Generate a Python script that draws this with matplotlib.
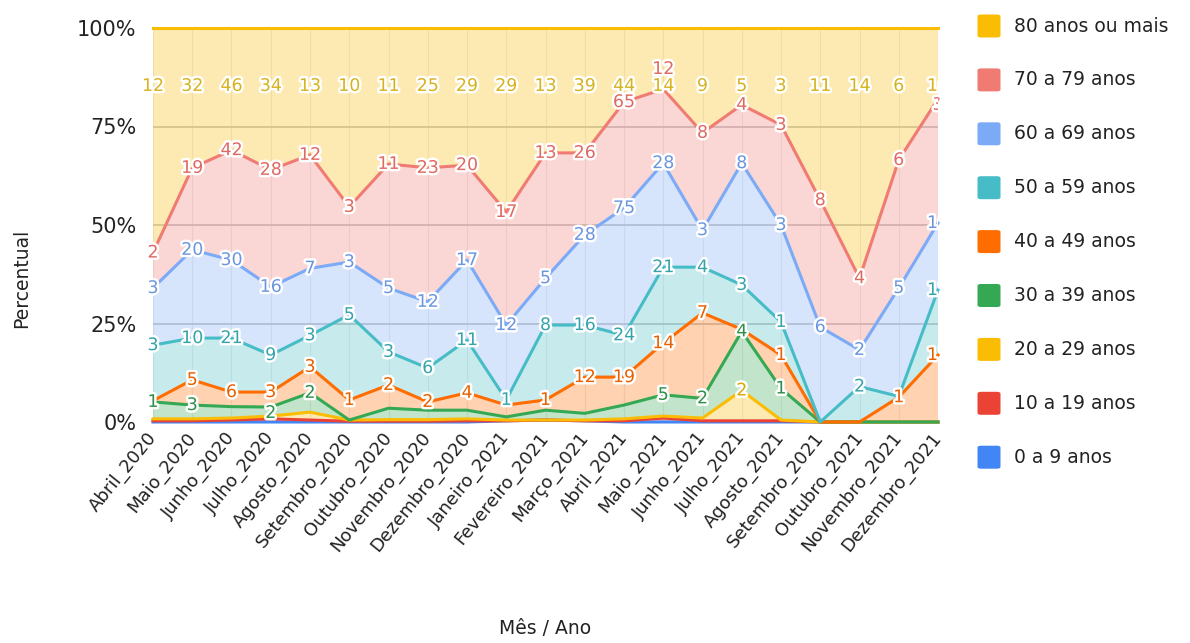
import numpy as np
import matplotlib
matplotlib.use("Agg")
import matplotlib.pyplot as plt
import matplotlib.patheffects as pe
from matplotlib.patches import FancyBboxPatch

months = ['Abril_2020', 'Maio_2020', 'Junho_2020', 'Julho_2020', 'Agosto_2020',
          'Setembro_2020', 'Outubro_2020', 'Novembro_2020', 'Dezembro_2020',
          'Janeiro_2021', 'Fevereiro_2021', 'Março_2021', 'Abril_2021', 'Maio_2021',
          'Junho_2021', 'Julho_2021', 'Agosto_2021', 'Setembro_2021', 'Outubro_2021',
          'Novembro_2021', 'Dezembro_2021']

series_names = ['0 a 9 anos', '10 a 19 anos', '20 a 29 anos', '30 a 39 anos', '40 a 49 anos',
                '50 a 59 anos', '60 a 69 anos', '70 a 79 anos', '80 anos ou mais']

# percentage share of each age group per month
s0_9 = [0, 0, 0, 0, 0, 0, 0, 0, 0, 0.3, 0.5, 0.3, 0, 0, 0, 0, 0, 0, 0, 0, 0]
s10_19 = [0.3, 0.3, 0.5, 0.8, 0.5, 0.2, 0.2, 0.2, 0.3, 0.0, 0.0, 0.0, 0.3, 1.0, 0.3, 0.3, 0.3, 0, 0, 0, 0]
s20_29 = [0.5, 0.5, 0.5, 0.7, 2.0, 0.3, 0.4, 0.4, 0.5, 0.2, 0.0, 0.2, 0.5, 0.5, 0.7, 7.7, 0.2, 0, 0, 0, 0]
s30_39 = [4.3, 3.5, 2.9, 2.3, 4.9, 0.0, 2.9, 2.4, 2.2, 0.8, 2.5, 1.7, 3.5, 5.4, 5.0, 15.0, 8.0, 0, 0, 0, 0]
s40_49 = [0.3, 6.4, 3.7, 3.8, 6.6, 5.1, 5.9, 2.1, 4.4, 3.0, 2.6, 9.2, 7.1, 13.1, 21.7, 0.5, 8.5, 0, 0, 6.3, 17.0]
s50_59 = [14.1, 10.6, 13.7, 9.4, 8.0, 21.6, 8.4, 8.6, 13.4, 1.3, 19.0, 13.2, 10.6, 19.3, 11.6, 11.3, 8.4, 0, 9.0, 0.2, 16.5]
s60_69 = [14.5, 22.4, 19.8, 17.3, 17.0, 13.4, 16.2, 16.8, 20.3, 19.0, 11.9, 22.9, 32.3, 26.4, 9.4, 30.9, 24.6, 24.1, 9.3, 27.5, 17.0]
s70_79 = [9.0, 20.8, 27.9, 29.7, 28.8, 14.0, 31.5, 34.0, 24.1, 28.7, 31.8, 20.8, 26.9, 18.8, 24.7, 14.8, 25.4, 32.2, 18.2, 32.5, 31.5]
s80 = [57.0, 35.5, 31.0, 36.0, 32.2, 45.4, 34.5, 35.5, 34.8, 46.7, 31.7, 31.7, 18.8, 15.5, 26.6, 19.5, 24.6, 43.7, 63.5, 33.5, 18.0]

# data labels (counts shown on the chart)
lab20 = ['', '', '', '', '', '', '', '', '', '', '', '', '', '', '', '2', '', '', '', '', '']
lab30 = ['1', '3', '', '2', '2', '', '', '', '', '', '', '', '', '5', '2', '4', '1', '', '', '', '']
lab40 = ['', '5', '6', '3', '3', '1', '2', '2', '4', '', '1', '12', '19', '14', '7', '', '1', '', '', '1', '13']
lab50 = ['3', '10', '21', '9', '3', '5', '3', '6', '11', '1', '8', '16', '24', '21', '4', '3', '1', '', '2', '', '12']
lab60 = ['3', '20', '30', '16', '7', '3', '5', '12', '17', '12', '5', '28', '75', '28', '3', '8', '3', '6', '2', '5', '10']
lab70 = ['2', '19', '42', '28', '12', '3', '11', '23', '20', '17', '13', '26', '65', '12', '8', '4', '3', '8', '4', '6', '3']
lab80 = ['12', '32', '46', '34', '13', '10', '11', '25', '29', '29', '13', '39', '44', '14', '9', '5', '3', '11', '14', '6', '16']

colors = ['#4285F4', '#EA4335', '#FBBC04', '#34A853', '#FF6D01',
          '#46BDC6', '#7BAAF7', '#F07B72', '#FBBC04']
label_colors = ['#3a72d0', '#c83a2e', '#d9a800', '#2e9048', '#e86000',
                '#36a3ac', '#6b96de', '#de6a62', '#d6b21c']

data = np.array([s0_9, s10_19, s20_29, s30_39, s40_49, s50_59, s60_69, s70_79, s80], dtype=float)
data = data / data.sum(axis=0) * 100.0
cum = np.cumsum(data, axis=0)
x = np.arange(len(months))

W, H = 1190, 643
fig = plt.figure(figsize=(W / 100, H / 100), dpi=100)
ax = fig.add_axes([153 / W, 1 - 422 / H, (938 - 153) / W, (422 - 28) / H])

ax.stackplot(x, data, colors=colors, alpha=0.3, linewidth=0, zorder=2)
for k in range(len(series_names)):
    ax.plot(x, cum[k], color=colors[k], lw=2.2, zorder=3 + k * 0.01, clip_on=False,
            solid_joinstyle='round')

ax.set_xlim(0, len(months) - 1)
ax.set_ylim(0, 100)
ax.set_yticks([0, 25, 50, 75, 100])
ax.set_yticklabels(['0%', '25%', '50%', '75%', '100%'])
ax.set_xticks(x)
ax.set_xticklabels(months, rotation=51, ha='right', va='center', rotation_mode='anchor')
ax.tick_params(axis='both', length=0, colors='#222222')
ax.tick_params(axis='y', labelsize=15, pad=12)
ax.tick_params(axis='x', labelsize=13, pad=9)
ax.yaxis.grid(True, color='#c4c4c4', lw=1.2, zorder=1)
ax.xaxis.grid(True, color='#ececec', lw=0.8, zorder=1)
ax.set_axisbelow(True)
for sp in ax.spines.values():
    sp.set_visible(False)

halo = [pe.withStroke(linewidth=3.5, foreground='white')]


def put_label(i, y, txt, col):
    if not txt:
        return
    ax.text(i, y, txt, ha='center', va='center', fontsize=12.5, color=col,
            zorder=10, path_effects=halo, clip_on=(i == len(months) - 1))


# label placement nudges (where the original chart moved labels to avoid collisions)
nudges = {(7, 13): 89.6, (3, 3): 2.3, (7, 20): 80.5}
label_sets = [(2, lab20), (3, lab30), (4, lab40), (5, lab50), (6, lab60), (7, lab70)]
for k, labs in label_sets:
    for i, t in enumerate(labs):
        y = nudges.get((k, i), cum[k][i])
        put_label(i, y, t, label_colors[k])
for i, t in enumerate(lab80):
    put_label(i, 85.3, t, label_colors[8])

fig.text(22 / W, 1 - 278 / H, 'Percentual', rotation=90, ha='center', va='center',
         fontsize=13.5, color='#222222')
fig.text(545 / W, 1 - 628 / H, 'Mês / Ano', ha='center', va='center',
         fontsize=13.5, color='#222222')

# legend
leg_order = list(range(len(series_names)))[::-1]
for r, k in enumerate(leg_order):
    yc = 26 + r * 53.9
    sq = 23
    box = FancyBboxPatch(((989 - sq / 2) / W, 1 - (yc + sq / 2) / H), sq / W, sq / H,
                         boxstyle='round,pad=0,rounding_size=0.003', transform=fig.transFigure,
                         facecolor=colors[k], edgecolor='none')
    fig.patches.append(box)
    fig.text(1014 / W, 1 - yc / H, series_names[k], ha='left', va='center',
             fontsize=13.5, color='#222222')

fig.savefig('out.png', dpi=100)
